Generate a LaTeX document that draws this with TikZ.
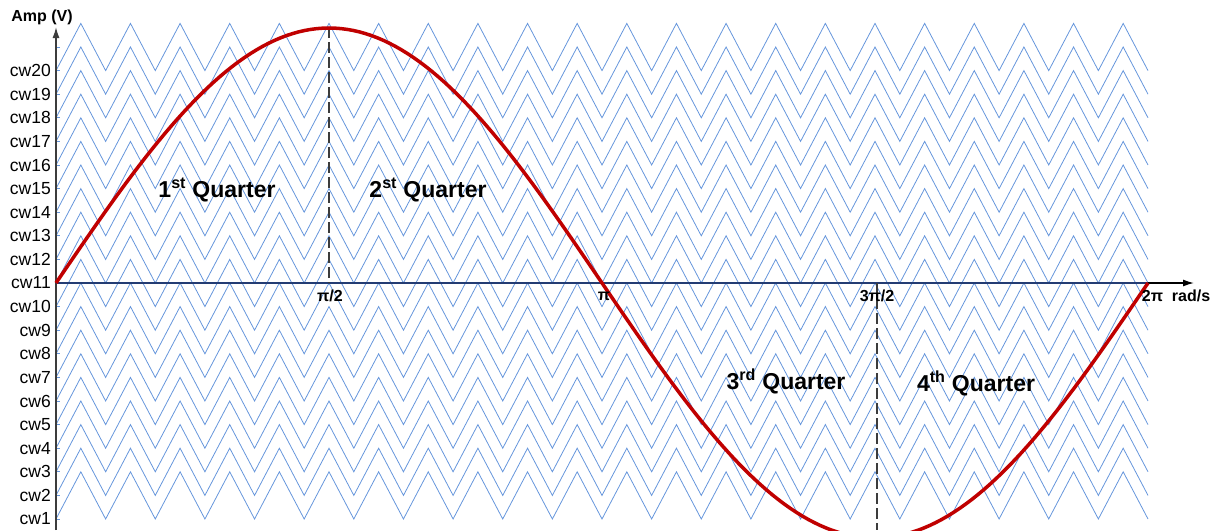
\documentclass[tikz,border=0pt]{standalone}
\usepackage{fontspec}
\setmainfont{Liberation Sans}
\usetikzlibrary{arrows.meta}
\definecolor{CarrierBlue}{RGB}{102,150,220}
\definecolor{SineRed}{RGB}{192,0,0}
\definecolor{AxisBlue}{RGB}{35,60,115}
\definecolor{AxisGray}{RGB}{60,60,60}
\tikzset{
  carrier/.style={draw=CarrierBlue, line width=0.8pt},
  sine/.style={draw=SineRed, line width=3.5pt},
  guide/.style={draw=AxisGray, line width=1.4pt, dash pattern=on 11pt off 4pt},
  axisline/.style={-{Latex[length=11pt,width=7pt]}, line width=1.4pt},
  cwlabel/.style={anchor=east, inner sep=0pt, font=\fontsize{17.5}{17.5}\selectfont},
  quarter/.style={inner sep=0pt, font=\fontsize{23}{23}\selectfont\bfseries},
  axlabel/.style={inner sep=0pt, font=\fontsize{16}{16}\selectfont\bfseries}
}

\begin{document}
\begin{tikzpicture}[x=1pt, y=-1pt]
\useasboundingbox (0,0) rectangle (1217,530);
\coordinate (O) at (56,283);
\coordinate (ytop) at (56,27);
\coordinate (ybot) at (56,530);
\coordinate (xend) at (1194,283);
\coordinate (twopi) at (1148,283);
\coordinate (peak) at (329,27);
\coordinate (halfpi) at (329,283);
\coordinate (threehalfpi) at (877,283);
\coordinate (trough) at (877,530);
% carriers cw1..cw20
\foreach \k in {1,...,21}{
  \pgfmathsetmacro{\yv}{283+(11-\k)*23.6}
  \draw[carrier] (56,\yv) -- ++(4,0);
}
\foreach \k in {1,...,20}{
  \pgfmathsetmacro{\yv}{283+(11-\k)*23.6}
  \draw[carrier] (56,\yv) \foreach \i in {1,...,22}{ -- ++(24.818,-47.2) -- ++(24.818,47.2) };
  \node[cwlabel] (cw\k) at (51,\yv) {cw\k};
}
% axes
\draw[axisline, AxisGray] (ybot) -- (ytop);
\draw[axisline, black] (O) -- (xend);
\draw[AxisBlue, line width=1.6pt] (O) -- (twopi);
\draw[guide] (peak) -- (halfpi);
\draw[guide] (threehalfpi) -- (trough);
% modulating wave
\draw[sine] plot[domain=0:360, samples=181] ({56+\x*3.03333}, {283-255*sin(\x)});
\node[axlabel] (amp) at (42,17) {Amp (V)};
\node[axlabel] (lhalfpi) at (330,296) {π/2};
\node[axlabel] (lpi) at (604,296) {π};
\node[axlabel] (lthreehalfpi) at (877,296) {3π/2};
\node[axlabel] (ltwopi) at (1176,296) {2π\ \ rad/s};
\node[quarter] (q1) at (217,190) {1\textsuperscript{st} Quarter};
\node[quarter] (q2) at (428,190) {2\textsuperscript{st} Quarter};
\node[quarter] (q3) at (786,381) {3\textsuperscript{rd} Quarter};
\node[quarter] (q4) at (976,383) {4\textsuperscript{th} Quarter};
\end{tikzpicture}
\end{document}
